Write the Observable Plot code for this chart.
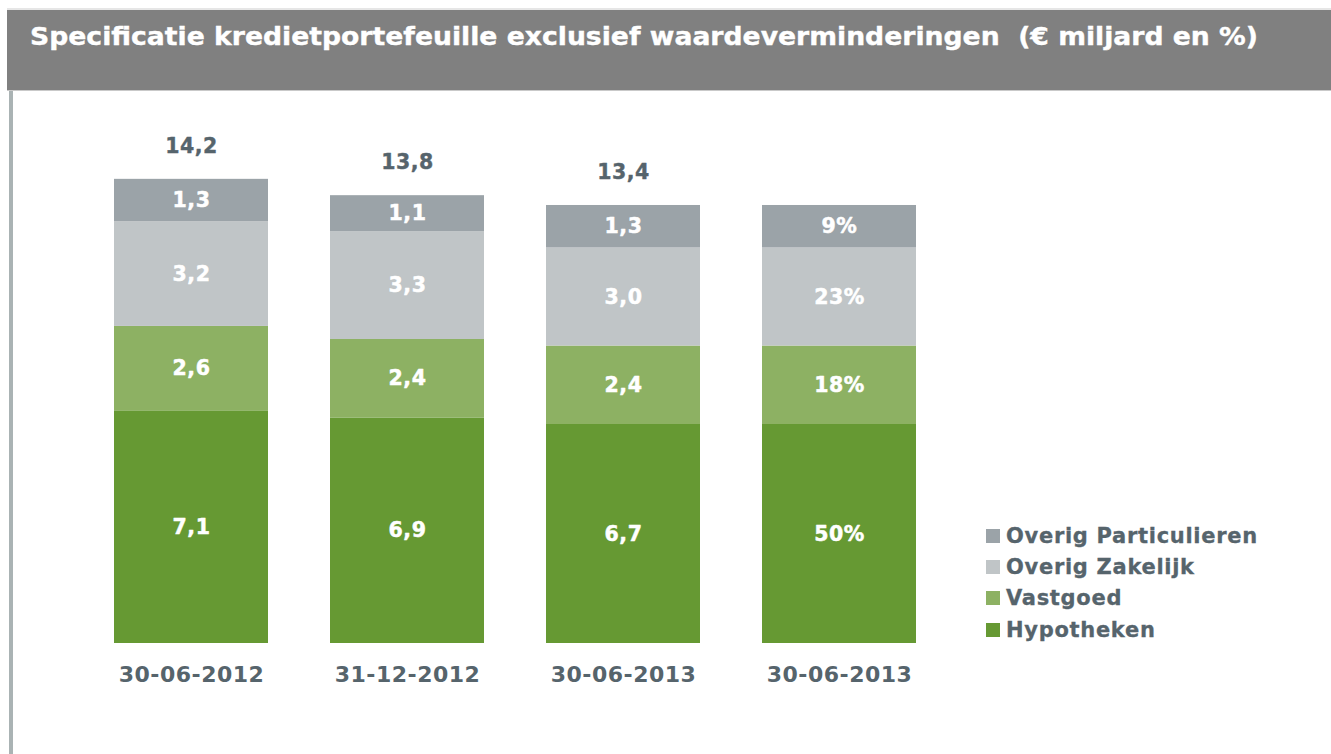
<!DOCTYPE html>
<html>
<head>
<meta charset="utf-8">
<script src="https://cdn.jsdelivr.net/npm/d3@7"></script>
<script src="https://cdn.jsdelivr.net/npm/@observablehq/plot@0.6"></script>
<style>
  html, body { margin: 0; padding: 0; background: #ffffff; }
  #root { position: relative; width: 1331px; height: 754px; overflow: hidden; background: #fff; }
  #topline { position: absolute; left: 7px; top: 8px; width: 1324px; height: 2px; background: #e6e6e6; }
  #titlebar { position: absolute; left: 7px; top: 10px; width: 1324px; height: 80px; background: #808080; border-bottom: 1px solid #c9c9c9; }
  #title { position: absolute; left: 30px; top: 21px; white-space: nowrap; color: #ffffff;
           font-family: "DejaVu Sans", Verdana, sans-serif; font-weight: bold; font-size: 25.5px; line-height: 30px;
           transform-origin: 0 0; -webkit-text-stroke: 0.4px #ffffff; }
  #leftstrip { position: absolute; left: 9px; top: 91px; width: 4px; height: 663px; background: #aab3b4; }
  #chart { position: absolute; left: 0; top: 100px; }
  #legend { position: absolute; left: 986px; top: 520px; font-family: "DejaVu Sans", Verdana, sans-serif;
            font-weight: bold; font-size: 21px; color: #56646c; letter-spacing: 0.7px; -webkit-text-stroke: 0.3px #56646c; }
  .lrow { display: flex; align-items: center; height: 31.3px; white-space: nowrap; }
  .sw { width: 14px; height: 14px; margin-right: 6px; flex: none; }
</style>
</head>
<body>
<div id="root">
  <div id="topline"></div>
  <div id="titlebar"></div>
  <div id="title"></div>
  <div id="leftstrip"></div>
  <div id="chart"></div>
  <div id="legend"></div>
</div>
<script>
// ---- data ----
const titleText = "Specificatie kredietportefeuille exclusief waardeverminderingen\u00a0 (€ miljard en %)";
const dates = ["30-06-2012", "31-12-2012", "30-06-2013", "30-06-2013"];
const categories = ["Hypotheken", "Vastgoed", "Overig Zakelijk", "Overig Particulieren"];
const colors = ["#669933", "#8db163", "#c0c5c7", "#9ba3a8"];
const hypotheken = [7.1, 6.9, 6.7, 6.7];
const vastgoed = [2.6, 2.4, 2.4, 2.4];
const overigZakelijk = [3.2, 3.3, 3.0, 3.0];
const overigParticulieren = [1.3, 1.1, 1.3, 1.3];
const percentages = [50, 18, 23, 9];          // last bar, in category order
const totals = [14.2, 13.8, 13.4];             // totals shown above first three bars

// ---- build table ----
const seriesByCat = [hypotheken, vastgoed, overigZakelijk, overigParticulieren];
const fmt = v => v.toFixed(1).replace(".", ",");
const rows = [];
dates.forEach((d, i) => {
  categories.forEach((c, k) => {
    const v = seriesByCat[k][i];
    rows.push({bar: i, cat: c, value: v, label: i === 3 ? percentages[k] + "%" : fmt(v)});
  });
});
const totalRows = totals.map((t, i) => ({
  bar: i,
  label: fmt(t),
  top: d3.sum(seriesByCat, s => s[i])
}));

// ---- title ----
const title = document.getElementById("title");
title.textContent = titleText;
const natural = title.getBoundingClientRect().width;
title.style.transform = `scaleX(${1228 / natural})`;

// ---- chart ----
const chart = Plot.plot({
  width: 980,
  height: 620,
  marginLeft: 50,
  marginRight: 0,
  marginTop: 20,
  marginBottom: 77,
  style: {fontFamily: "DejaVu Sans, Verdana, sans-serif", fontWeight: "bold", color: "#56646c", background: "transparent", overflow: "visible"},
  x: {domain: d3.range(dates.length), padding: 0.286, label: null},
  y: {domain: [0, 16], axis: null},
  color: {domain: categories, range: colors},
  marks: [
    Plot.barY(rows, Plot.stackY({x: "bar", y: "value", fill: "cat"})),
    Plot.text(rows, Plot.stackY({x: "bar", y: "value", text: "label", fill: "#ffffff", stroke: "#ffffff", strokeWidth: 0.5, fontSize: 20.5, fontWeight: "bold"})),
    Plot.text(totalRows, {x: "bar", y: "top", text: "label", dy: -33, lineAnchor: "middle", fill: "#56646c", stroke: "#56646c", strokeWidth: 0.4, fontSize: 20.5, fontWeight: "bold"}),
    Plot.axisX({tickSize: 0, tickPadding: 23, fontSize: 22, fontWeight: "bold", fill: "#56646c", stroke: "#56646c", strokeWidth: 0.4, tickFormat: i => dates[i], label: null})
  ]
});
chart.querySelectorAll("text").forEach(t => t.setAttribute("letter-spacing", "0.5"));
document.getElementById("chart").appendChild(chart);

// ---- legend ----
const legend = document.getElementById("legend");
categories.map((c, k) => ({c, col: colors[k]})).reverse().forEach(({c, col}) => {
  const row = document.createElement("div");
  row.className = "lrow";
  const sw = document.createElement("div");
  sw.className = "sw";
  sw.style.background = col;
  const tx = document.createElement("span");
  tx.textContent = c;
  row.appendChild(sw);
  row.appendChild(tx);
  legend.appendChild(row);
});
</script>
</body>
</html>
